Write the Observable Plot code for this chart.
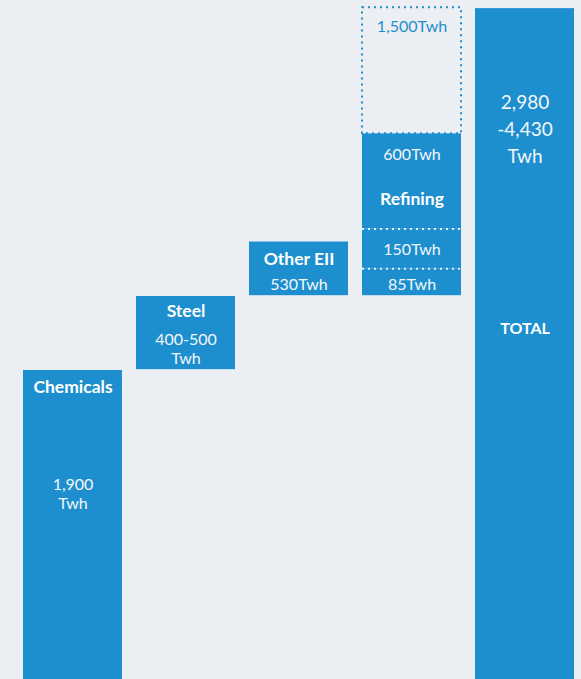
<!DOCTYPE html>
<html>
<head>
<meta charset="utf-8">
<script src="https://cdn.jsdelivr.net/npm/d3@7"></script>
<script src="https://cdn.jsdelivr.net/npm/@observablehq/plot@0.6"></script>
<style>
  html, body { margin: 0; padding: 0; background: #ebeff3; }
  #chart { width: 581px; height: 679px; overflow: hidden; }
</style>
</head>
<body>
<div id="chart"></div>
<script>
// ---- Data (bar extents in TWh-like display units) ----
const categories = ["Chemicals", "Steel", "Other EII", "Refining", "TOTAL"];
const segCategory = ["Chemicals", "Steel", "Other EII", "Refining", "Refining", "Refining", "Refining", "TOTAL"];
const segStart    = [0,    1905, 2360, 2360, 2525, 2770, 3355, 0];
const segEnd      = [1900, 2355, 2690, 2525, 2770, 3355, 4130, 4125];
const segPotential = [false, false, false, false, false, false, true, false];
const segValueLabel = ["1,900\nTwh", "400-500\nTwh", "530Twh", "85Twh", "150Twh", "600Twh", "1,500Twh", "2,980\n-4,430\nTwh"];
const segNameLabel  = ["Chemicals", "Steel", "Other EII", "", "", "Refining", "", "TOTAL"];
const yMax = 4175;

// ---- Build tables ----
const W = 581, H = 679;
const segments = segCategory.map((c, i) => ({
  cat: c, y1: segStart[i], y2: segEnd[i], potential: segPotential[i],
  value: segValueLabel[i], name: segNameLabel[i], i
}));
const solid = segments.filter(d => !d.potential);
const potential = segments.filter(d => d.potential);
const separators = [];
for (let i = 1; i < segments.length; i++) {
  const a = segments[i - 1], b = segments[i];
  if (a.cat === b.cat && !a.potential && !b.potential) separators.push({cat: b.cat, y: b.y1});
}

// label placement (pixels below each segment's top edge) — style, not data
const unitsPerPx = yMax / H;
const valueOffsetPx = [122.5, 51.5, 42, 15, 20, 20, 18, 118.5];
const nameOffsetPx  = [17, 15, 17, 0, 0, 66, 0, 320];
const valueSize     = [16, 16, 16, 16, 16, 16, 16, 19];
const nameSize      = [17.5, 17.5, 17.5, 0, 0, 17.5, 0, 16];

const valueLabels = segments.map(d => ({
  cat: d.cat, text: d.value, y: d.y2 - valueOffsetPx[d.i] * unitsPerPx,
  potential: d.potential, size: valueSize[d.i]
}));
const nameLabels = segments.filter(d => d.name).map(d => ({
  cat: d.cat, text: d.name, y: d.y2 - nameOffsetPx[d.i] * unitsPerPx, size: nameSize[d.i]
}));

const BLUE = "#1e8fce";

const plot = Plot.plot({
  width: W,
  height: H,
  marginTop: 0, marginBottom: 0, marginLeft: 22, marginRight: 7,
  style: { background: "#ebeff3", fontFamily: "Lato, 'Open Sans', sans-serif" },
  x: { type: "band", domain: categories, paddingInner: 0.124, paddingOuter: 0, axis: null },
  y: { domain: [0, yMax], axis: null },
  marks: [
    Plot.barY(solid, { x: "cat", y1: "y1", y2: "y2", fill: BLUE }),
    Plot.barY(potential, { x: "cat", y1: "y1", y2: "y2", fill: "none", stroke: BLUE,
      strokeWidth: 2, strokeDasharray: "2,4" }),
    Plot.tickY(separators, { x: "cat", y: "y", stroke: "#ffffff", strokeOpacity: 0.85,
      strokeWidth: 2, strokeDasharray: "2,4" }),
    Plot.text(valueLabels.filter(d => d.size === 16), {
      x: "cat", y: "y", text: "text", lineHeight: 1.2,
      fill: d => d.potential ? BLUE : "#f4f7fa", fontSize: 16, fontWeight: 400
    }),
    Plot.text(valueLabels.filter(d => d.size !== 16), {
      x: "cat", y: "y", text: "text", lineHeight: 1.42,
      fill: "#f4f7fa", fontSize: 19, fontWeight: 400
    }),
    Plot.text(nameLabels.filter(d => d.size !== 16), {
      x: "cat", y: "y", text: "text", fill: "#ffffff", fontSize: 17.5, fontWeight: 700
    }),
    Plot.text(nameLabels.filter(d => d.size === 16), {
      x: "cat", y: "y", text: "text", fill: "#ffffff", fontSize: 16, fontWeight: 700
    })
  ]
});
document.getElementById("chart").appendChild(plot);
</script>
</body>
</html>
